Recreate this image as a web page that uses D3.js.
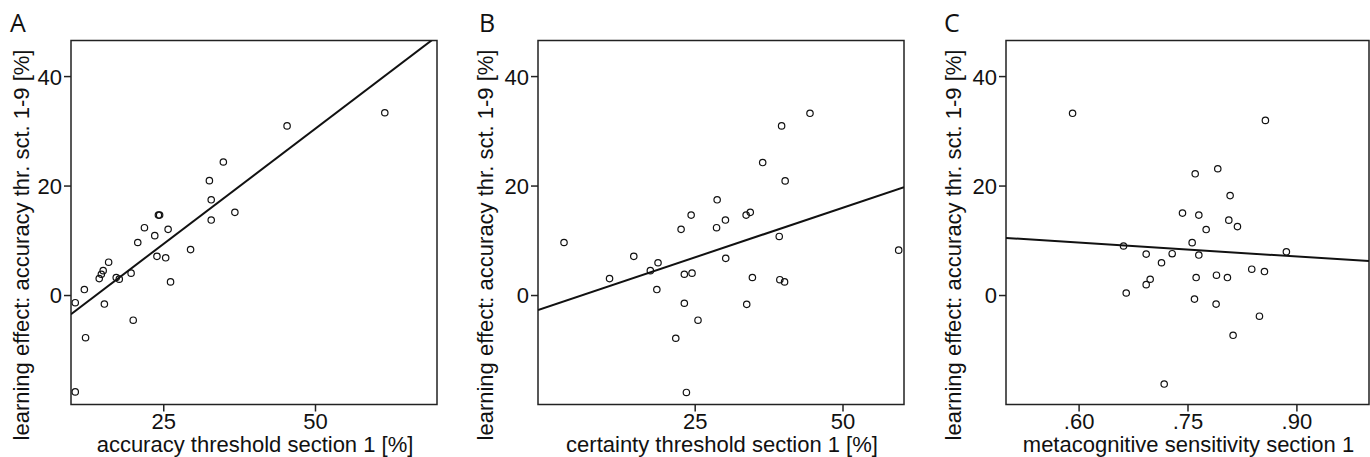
<!DOCTYPE html>
<html>
<head>
<meta charset="utf-8">
<script src="https://cdn.jsdelivr.net/npm/d3@7"></script>
<style>
  body { margin: 0; background: #fff; }
  text { font-family: "Liberation Sans", Arial, sans-serif; fill: #111; }
  .letter { font-family: "Open Sans", "Noto Sans", sans-serif; }
</style>
</head>
<body>
<div id="plot"></div>
<script>
// ---- data ----
var yTicks = [0, 20, 40];
var yTitle = "learning effect: accuracy thr. sct. 1-9 [%]";

// panel A: accuracy threshold vs learning effect
var accA   = [10.5, 12.0, 12.2, 10.5, 14.45, 14.8, 15.1, 15.3, 16.0, 17.25, 17.75, 19.7, 20.05, 20.8, 21.9,
              23.6, 23.96, 24.2, 24.4, 25.4, 25.8, 26.2, 29.5, 32.6, 32.9, 32.9, 34.9, 36.8, 45.4, 61.5];
var learnA = [-1.4, 1.0, -7.8, -17.7, 3.0, 3.8, 4.45, -1.65, 6.0, 3.2, 2.9, 4.0, -4.6, 9.6, 12.3,
              10.85, 7.07, 14.6, 14.6, 6.8, 12.0, 2.4, 8.3, 20.9, 17.4, 13.7, 24.3, 15.1, 30.9, 33.3];
var fitAx  = [9.8, 69.3], fitAy = [-3.5, 46.6];
var xTicksA = [25, 50];

// panel B: certainty threshold vs learning effect
var certB  = [2.9, 10.6, 14.7, 17.5, 18.8, 18.6, 21.8, 22.7, 23.25, 23.25, 23.6, 24.4, 24.55, 25.56, 28.7,
              28.8, 30.2, 30.25, 33.7, 34.4, 33.8, 34.76, 36.5, 39.3, 39.4, 40.2, 39.7, 40.3, 44.5, 59.5];
var learnB = [9.6, 3.0, 7.07, 4.45, 5.9, 1.0, -7.9, 12.0, 3.8, -1.5, -17.8, 14.6, 4.0, -4.6, 12.3,
              17.4, 13.7, 6.7, 14.6, 15.1, -1.7, 3.2, 24.2, 10.7, 2.8, 2.4, 30.9, 20.85, 33.2, 8.2];
var fitBx  = [-1.5, 60.4], fitBy = [-2.74, 19.7];
var xTicksB = [25, 50];

// panel C: metacognitive sensitivity vs learning effect
var metaC  = [0.5917, 0.6619, 0.6656, 0.6931, 0.6931, 0.6986, 0.7142, 0.7179, 0.7289, 0.7431, 0.7564, 0.7606,
              0.7596, 0.7619, 0.7656, 0.7656, 0.7757, 0.7899, 0.7894, 0.7917, 0.8050, 0.8069, 0.8087, 0.8128,
              0.8188, 0.8385, 0.8491, 0.8560, 0.8573, 0.8862];
var learnC = [33.2, 8.96, 0.37, 7.48, 1.9, 2.88, 5.9, -16.26, 7.55, 14.97, 9.57, 22.15,
              -0.74, 3.19, 14.6, 7.3, 11.96, 3.62, -1.66, 23.07, 3.19, 13.68, 18.16, -7.36,
              12.5, 4.72, -3.87, 4.29, 31.9, 7.9];
var fitCx  = [0.5, 1.0], fitCy = [10.43, 6.2];
var xTicksC = [0.60, 0.75, 0.90];

var W = 1370, H = 457;
var svg = d3.select("#plot").append("svg").attr("width", W).attr("height", H);

var panels = [
  {letter: "A", lx: 10, left: 71, right: 437, ylabX: 29, xdom: [9.8, 70.1],
   xs: accA, ys: learnA, fx: fitAx, fy: fitAy, ticks: xTicksA, fmt: d3.format("d"),
   title: "accuracy threshold section 1 [%]"},
  {letter: "B", lx: 479, left: 538, right: 904, ylabX: 493, xdom: [-1.5, 60.4],
   xs: certB, ys: learnB, fx: fitBx, fy: fitBy, ticks: xTicksB, fmt: d3.format("d"),
   title: "certainty threshold section 1 [%]"},
  {letter: "C", lx: 944, left: 1006, right: 1369, ylabX: 961, xdom: [0.5, 1.0],
   xs: metaC, ys: learnC, fx: fitCx, fy: fitCy, ticks: xTicksC, fmt: function(d){ return d3.format(".2f")(d).replace(/^0/, ""); },
   title: "metacognitive sensitivity section 1"}
];

var plotTop = 40.5, plotBottom = 404.5;

panels.forEach(function(p, i){
    var x = d3.scaleLinear().domain(p.xdom).range([p.left, p.right]);
    var y = d3.scaleLinear().domain([-20, 46.5]).range([plotBottom, plotTop]);

    var g = svg.append("g");

    g.append("clipPath").attr("id", "clip" + i)
      .append("rect").attr("x", p.left).attr("y", plotTop)
      .attr("width", p.right - p.left).attr("height", plotBottom - plotTop);

    // frame
    g.append("rect")
      .attr("x", p.left).attr("y", plotTop)
      .attr("width", p.right - p.left).attr("height", plotBottom - plotTop)
      .attr("fill", "none").attr("stroke", "#222").attr("stroke-width", 1.5);

    // y axis
    var ay = g.append("g").attr("transform", "translate(" + p.left + ",0)")
      .call(d3.axisLeft(y).tickValues(yTicks).tickSize(7).tickPadding(2));
    ay.select(".domain").remove();
    ay.selectAll("line").attr("stroke", "#222").attr("stroke-width", 1.5);
    ay.selectAll("text").style("font-size", "22px").attr("fill", "#111").attr("dy", "0.36em");

    // x axis
    var ax = g.append("g").attr("transform", "translate(0," + plotBottom + ")")
      .call(d3.axisBottom(x).tickValues(p.ticks).tickFormat(p.fmt).tickSize(7).tickPadding(2));
    ax.select(".domain").remove();
    ax.selectAll("line").attr("stroke", "#222").attr("stroke-width", 1.5);
    ax.selectAll("text").style("font-size", "22px").attr("fill", "#111");

    // fit line
    g.append("line")
      .attr("clip-path", "url(#clip" + i + ")")
      .attr("x1", x(p.fx[0])).attr("y1", y(p.fy[0]))
      .attr("x2", x(p.fx[1])).attr("y2", y(p.fy[1]))
      .attr("stroke", "#111").attr("stroke-width", 2);

    // points
    g.selectAll("circle.pt")
      .data(d3.range(p.xs.length))
      .enter().append("circle")
      .attr("class", "pt")
      .attr("cx", function(d){ return x(p.xs[d]); })
      .attr("cy", function(d){ return y(p.ys[d]); })
      .attr("r", 3.2)
      .attr("fill", "none")
      .attr("stroke", "#111").attr("stroke-width", 1.2);

    // titles
    g.append("text")
      .attr("x", (p.left + p.right) / 2 + 1)
      .attr("y", 452)
      .attr("text-anchor", "middle")
      .style("font-size", "22px")
      .text(p.title);

    g.append("text")
      .attr("transform", "translate(" + p.ylabX + ",245) rotate(-90)")
      .attr("text-anchor", "middle")
      .style("font-size", "22px")
      .text(yTitle);

    g.append("text")
      .attr("class", "letter")
      .attr("x", p.lx).attr("y", 32)
      .style("font-size", "25px")
      .text(p.letter);
});
</script>
</body>
</html>
